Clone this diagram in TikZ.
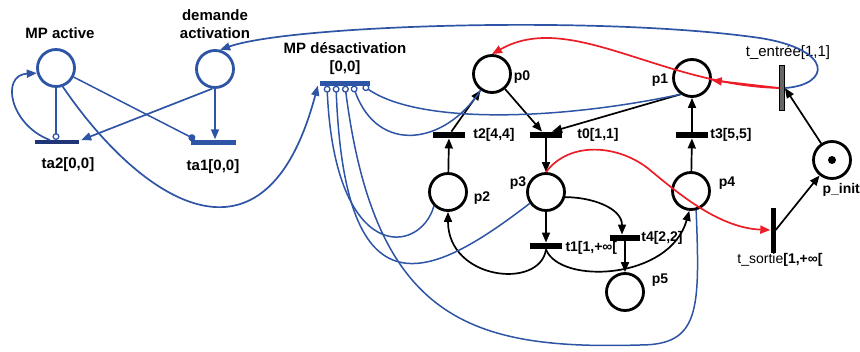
\documentclass[tikz,border=0pt]{standalone}
\usepackage{fontspec}
\setmainfont{Liberation Sans}
\usetikzlibrary{arrows.meta}
\definecolor{bleu}{RGB}{46,84,165}
\definecolor{bleufonce}{RGB}{32,52,120}
\definecolor{rouge}{RGB}{235,30,40}
\tikzset{
  place/.style={circle, draw, line width=2.8pt, minimum size=37pt, inner sep=0pt},
  bplace/.style={place, draw=bleu},
  trans/.style={fill=black, minimum width=32pt, minimum height=6.5pt, inner sep=0pt},
  btrans/.style={trans, fill=bleu, minimum width=45pt, minimum height=5pt},
  vtrans/.style={fill=black, minimum width=5pt, minimum height=45pt, inner sep=0pt},
  lbl/.style={font=\fontsize{14}{16}\selectfont\bfseries},
  glbl/.style={font=\fontsize{15}{18}\selectfont\bfseries},
  arc/.style={line width=1.7pt, -{Triangle[length=10pt,width=8pt]}},
  barc/.style={arc, draw=bleu},
  rarc/.style={arc, draw=rouge},
  inh/.style={line width=1.5pt, draw=bleu, -{Circle[open,length=7pt,line width=1.3pt]}}
}
\begin{document}
\begin{tikzpicture}[x=1pt,y=1pt]
    \useasboundingbox (0,0) rectangle (860,-351);
    %partie activation
    \node[bplace] (mpA) at (56,-68) {};
    \node[glbl] (lmpA) at (60,-33) {MP active};
    \node[bplace] (dem) at (215,-69) {};
    \node[glbl, align=center] (ldem) at (215,-24) {demande\\activation};
    \node[btrans, fill=bleufonce, minimum height=3.5pt, minimum width=44pt] (ta2) at (57,-142) {};
    \node[glbl] (lta2) at (68,-165) {ta2[0,0]};
    \node[btrans] (ta1) at (213,-142) {};
    \node[glbl] (lta1) at (213,-167) {ta1[0,0]};
    \node[btrans, minimum width=50pt] (mpD) at (345,-83) {};
    \node[glbl, align=center] (lmpD) at (345,-59) {MP désactivation\\{[0,0]}};
    \draw[inh] (mpA) -- (mpA |- ta2.north);
    \draw[barc] ([xshift=-7pt]ta2.north) .. controls (10,-125) and (0,-75) .. (mpA.195);
    \draw[line width=1.5pt, draw=bleu, -{Circle[length=7pt]}] (mpA) -- ([xshift=-18pt]ta1.north);
    \draw[barc] (dem) -- (dem |- ta1.north);
    \draw[barc] (dem.262) -- ([xshift=2pt]ta2.north east);
    \draw[barc] (mpA.-70) .. controls (140,-200) and (265,-285) .. ([xshift=-2pt]mpD.south west);
    %reseau
    \node[place] (p0) at (492,-74) {};
    \node[lbl] (lp0) at (522,-77) {p0};
    \node[place] (p1) at (692,-78) {};
    \node[lbl] (lp1) at (660,-80) {p1};
    \node[place] (p2) at (448,-192) {};
    \node[lbl] (lp2) at (482,-198) {p2};
    \node[place] (p3) at (546,-192) {};
    \node[lbl] (lp3) at (518,-183) {p3};
    \node[place] (p4) at (691,-191) {};
    \node[lbl] (lp4) at (727,-183) {p4};
    \node[place] (p5) at (625,-292) {};
    \node[lbl] (lp5) at (660,-280) {p5};
    \node[place] (pinit) at (832,-160) {};
    \node[circle, fill, inner sep=0pt, minimum size=8pt] (jeton) at (pinit) {};
    \node[lbl, anchor=west] (lpinit) at (819,-190) {p\_init};
    \node[trans] (t2) at (449,-135) {};
    \node[lbl] (lt2) at (494,-135) {t2[4,4]};
    \node[trans] (t0) at (546,-135) {};
    \node[lbl] (lt0) at (598,-135) {t0[1,1]};
    \node[trans] (t3) at (692,-135) {};
    \node[lbl] (lt3) at (731,-135) {t3[5,5]};
    \node[trans] (t1) at (546,-246) {};
    \node[lbl, anchor=west] (lt1) at (562,-248) {t1[1,+∞[};
    \node[trans, minimum width=30pt] (t4) at (625,-238) {};
    \node[lbl] (lt4) at (662,-238) {t4[2,2]};
    \node[vtrans, fill=black!60, draw=black, line width=0.8pt] (tin) at (782,-88) {};
    \node[font=\fontsize{15}{18}\selectfont] (ltin) at (788,-53) {t\_entrée[1,1]};
    \node[vtrans] (tout) at (773,-230) {};
    \node[lbl] (ltout) at (780,-260) {{\mdseries t\_sortie}[1,+∞[};
    \draw[arc] (p2) -- (t2);
    \draw[arc] (t2) -- (p0);
    \draw[arc] (p0) -- ([xshift=-4pt]t0.north);
    \draw[arc] (p1.235) -- ([xshift=6pt]t0.north);
    \draw[arc] (t0) -- (p3);
    \draw[arc] (p3) -- (t1);
    \draw[arc] (t1.south) .. controls (540,-290) and (448,-280) .. (p2.south);
    \draw[arc] (t1.south) .. controls (560,-285) and (670,-280) .. (p4.265);
    \draw[arc] (p3.-15) to[out=0, in=90] ([xshift=-3pt]t4.north);
    \draw[arc] (t4) -- (p5);
    \draw[arc] (p4) -- (t3);
    \draw[arc] (t3) -- (p1);
    \draw[arc] (pinit) -- (tin.east);
    \draw[arc] (tout.east) -- (pinit);
    %arcs rouges
    \draw[rarc] (tin.west) -- (p1);
    \draw[rarc] (tin.west) .. controls (660,-85) and (570,-10) .. (p0.north);
    \draw[rarc] (p3.north) .. controls (570,-140) and (620,-145) .. (650,-170)
        .. controls (680,-195) and (720,-228) .. (tout.west);
    %arcs bleus
    \draw[barc] (tin.east) .. controls (830,-85) and (835,-50) .. (760,-38)
        .. controls (600,-15) and (290,-25) .. (dem.75);
    \draw[inh] (p2.225) .. controls (420,-255) and (335,-265) .. ([xshift=-18pt]mpD.south);
    \draw[inh] (p3.215) .. controls (430,-280) and (345,-320) .. ([xshift=-9pt]mpD.south);
    \draw[inh] (p4.-75) .. controls (700,-310) and (700,-345) .. (640,-345)
        .. controls (470,-350) and (375,-320) .. (mpD.south);
    \draw[inh] (p0.235) .. controls (445,-145) and (378,-155) .. ([xshift=8pt]mpD.south);
    \draw[inh] (p1.235) .. controls (560,-120) and (420,-125) .. ([xshift=18pt]mpD.south);
\end{tikzpicture}
\end{document}
